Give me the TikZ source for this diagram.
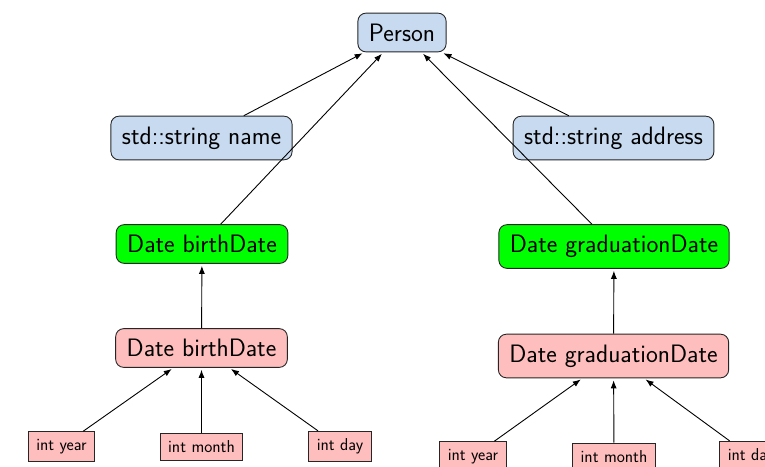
\documentclass[tikz,border=0pt]{standalone}
\usetikzlibrary{arrows.meta}
\definecolor{bluebox}{RGB}{200,218,240}
\definecolor{greenbox}{RGB}{0,255,0}
\definecolor{pinkbox}{RGB}{255,190,190}
\begin{document}
\begin{tikzpicture}[x=1pt,y=-1pt,
  bignode/.style={draw=black!85,line width=0.9pt,rounded corners=8pt,inner xsep=11pt,inner ysep=10.5pt,
    font=\fontsize{25.2}{29}\selectfont\sffamily},
  bluen/.style={bignode,fill=bluebox},
  greenn/.style={bignode,fill=greenbox},
  pinkn/.style={bignode,fill=pinkbox},
  smalln/.style={draw=black!85,line width=0.9pt,fill=pinkbox,inner xsep=8pt,inner ysep=7.5pt,
    font=\fontsize{17.2}{20}\selectfont\sffamily},
  conn/.style={line width=0.9pt,-{Latex[length=8pt,width=6pt]},shorten >=2pt}]
\useasboundingbox (0,0) rectangle (765,466);
\node[bluen] (person) at (402,32.5) {Person};
\node[bluen] (name) at (201.5,138) {std::string name};
\node[bluen] (address) at (613.5,138) {std::string address};
\node[greenn] (bdg) at (202,244) {Date birthDate};
\node[greenn] (gdg) at (614,246.5) {Date graduationDate};
\node[pinkn] (bdp) at (201.5,348) {Date birthDate};
\node[pinkn] (gdp) at (613.5,356) {Date graduationDate};
\node[smalln] (y1) at (61.5,446.5) {int year};
\node[smalln] (m1) at (201.5,446.5) {int month};
\node[smalln] (d1) at (340,446.5) {int day};
\node[smalln] (y2) at (473,456.5) {int year};
\node[smalln] (m2) at (614,456.5) {int month};
\node[smalln] (d2) at (751,456.5) {int day};
\draw[conn] (name) -- (person);
\draw[conn] (bdg) -- (person);
\draw[conn] (gdg) -- (person);
\draw[conn] (address) -- (person);
\draw[conn] (bdp) -- (bdg);
\draw[conn] (gdp) -- (gdg);
\draw[conn] (y1) -- (bdp);
\draw[conn] (m1) -- (bdp);
\draw[conn] (d1) -- (bdp);
\draw[conn] (y2) -- (gdp);
\draw[conn] (m2) -- (gdp);
\draw[conn] (d2) -- (gdp);
\end{tikzpicture}
\end{document}
